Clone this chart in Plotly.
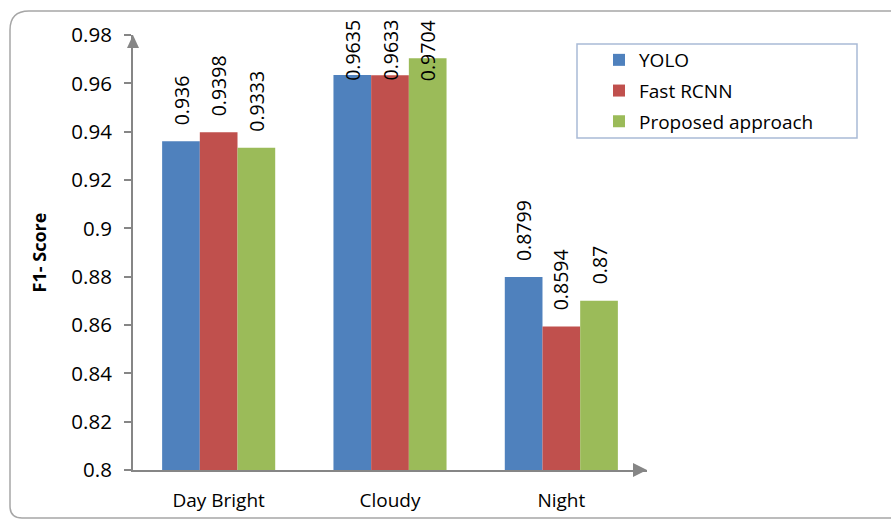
import plotly.graph_objects as go

# Detection F1 scores by lighting condition
conditions = ["Day Bright", "Cloudy", "Night"]
yolo = [0.936, 0.9635, 0.8799]
fast_rcnn = [0.9398, 0.9633, 0.8594]
proposed = [0.9333, 0.9704, 0.87]
series_names = ["YOLO", "Fast RCNN", "Proposed approach"]
y_ticks = [0.8, 0.82, 0.84, 0.86, 0.88, 0.9, 0.92, 0.94, 0.96, 0.98]
y_tick_labels = ["0.8", "0.82", "0.84", "0.86", "0.88", "0.9", "0.92", "0.94", "0.96", "0.98"]

colors = ["#4f81bd", "#c0504d", "#9bbb59"]
series = [yolo, fast_rcnn, proposed]

W, H = 891, 520
M = dict(l=133, r=244, t=35, b=50)
plot_h = H - M["t"] - M["b"]
y_min, y_max = 0.8, 0.98
bargap = 0.34
font = "Open Sans, DejaVu Sans, sans-serif"
axis_grey = "#868686"

fig = go.Figure()
xs = list(range(len(conditions)))
for k, (name, vals, col) in enumerate(zip(series_names, series, colors)):
    fig.add_trace(go.Bar(
        x=xs, y=vals, name=name, marker=dict(color=col, line=dict(width=0)),
        legendgroup=name,
    ))

# Rotated value labels above each bar; kept inside the chart frame at the top
bar_w = (1 - bargap) / len(series)
px_per_unit = plot_h / (y_max - y_min)
label_gap = 14
top_limit = 17  # px above the plot area the labels may reach
annotations = []
for k, vals in enumerate(series):
    for i, v in enumerate(vals):
        txt = f"{v:g}"
        est_len = sum(5.1 if c == "." else 10.9 for c in txt)
        top_px = (v - y_min) * px_per_unit + label_gap + est_len - plot_h
        common = dict(
            x=i + (k - 1) * bar_w, xref="x", text=txt, textangle=-90,
            showarrow=False, font=dict(size=19.5, color="black", family=font),
        )
        if top_px > top_limit:
            annotations.append(dict(y=1, yref="paper", yanchor="top",
                                    yshift=top_limit, **common))
        else:
            annotations.append(dict(y=v, yref="y", yanchor="bottom",
                                    yshift=label_gap, **common))

shapes = [
    # outer rounded frame
    dict(type="path", xref="paper", yref="paper", xanchor=0, yanchor=0,
         xsizemode="pixel", ysizemode="pixel",
         path="M -123 -30 L -123 440 Q -123 459 -104 459 L 800 459 "
              "L 800 -48 L -111 -48 Q -123 -48 -123 -36 Z",
         line=dict(color="#a6a6a6", width=1.5), layer="below"),
    # y-axis arrow head
    dict(type="path", xref="paper", yref="paper", xanchor=0, yanchor=1,
         xsizemode="pixel", ysizemode="pixel",
         path="M -6 -13 L 0 0 L 6 -13 Z",
         fillcolor=axis_grey, line=dict(color=axis_grey, width=0)),
    # x-axis arrow head
    dict(type="path", xref="paper", yref="paper", xanchor=1, yanchor=0,
         xsizemode="pixel", ysizemode="pixel",
         path="M -14 7 L 0 0 L -14 -7 Z",
         fillcolor=axis_grey, line=dict(color=axis_grey, width=0)),
    # legend frame
    dict(type="rect", xref="paper", yref="paper", xanchor=1, yanchor=1,
         xsizemode="pixel", ysizemode="pixel",
         x0=-70, x1=210, y0=-9, y1=-103,
         line=dict(color="#a9bad6", width=1.5)),
]

fig.update_layout(
    width=W, height=H, margin=M,
    paper_bgcolor="white", plot_bgcolor="white",
    font=dict(family=font, size=19, color="black"),
    barmode="group", bargap=bargap, bargroupgap=0,
    showlegend=True,
    legend=dict(
        x=(577 - M["l"]) / (W - M["l"] - M["r"]),
        y=1 - 6 / plot_h, xanchor="left", yanchor="top",
        bgcolor="rgba(0,0,0,0)", borderwidth=0,
        traceorder="grouped", tracegroupgap=3, indentation=22,
        font=dict(size=19, family=font),
    ),
    xaxis=dict(
        range=[-0.5, len(conditions) - 0.5], tickvals=xs, ticktext=conditions,
        showline=True, linecolor=axis_grey, linewidth=2, ticks="",
        showgrid=False, zeroline=False, ticklabelstandoff=12,
        tickfont=dict(size=19), automargin=False,
    ),
    yaxis=dict(
        range=[y_min, y_max], tickvals=y_ticks, ticktext=y_tick_labels,
        showline=True, linecolor=axis_grey, linewidth=2,
        ticks="outside", ticklen=7, tickwidth=1.5, tickcolor=axis_grey,
        showgrid=False, zeroline=False, tickfont=dict(size=20.5),
        ticklabelstandoff=8, automargin=False,
        title=dict(text="<b>F1- Score</b>", font=dict(size=18), standoff=20),
    ),
    annotations=annotations,
    shapes=shapes,
)

fig.write_html("out.html")
